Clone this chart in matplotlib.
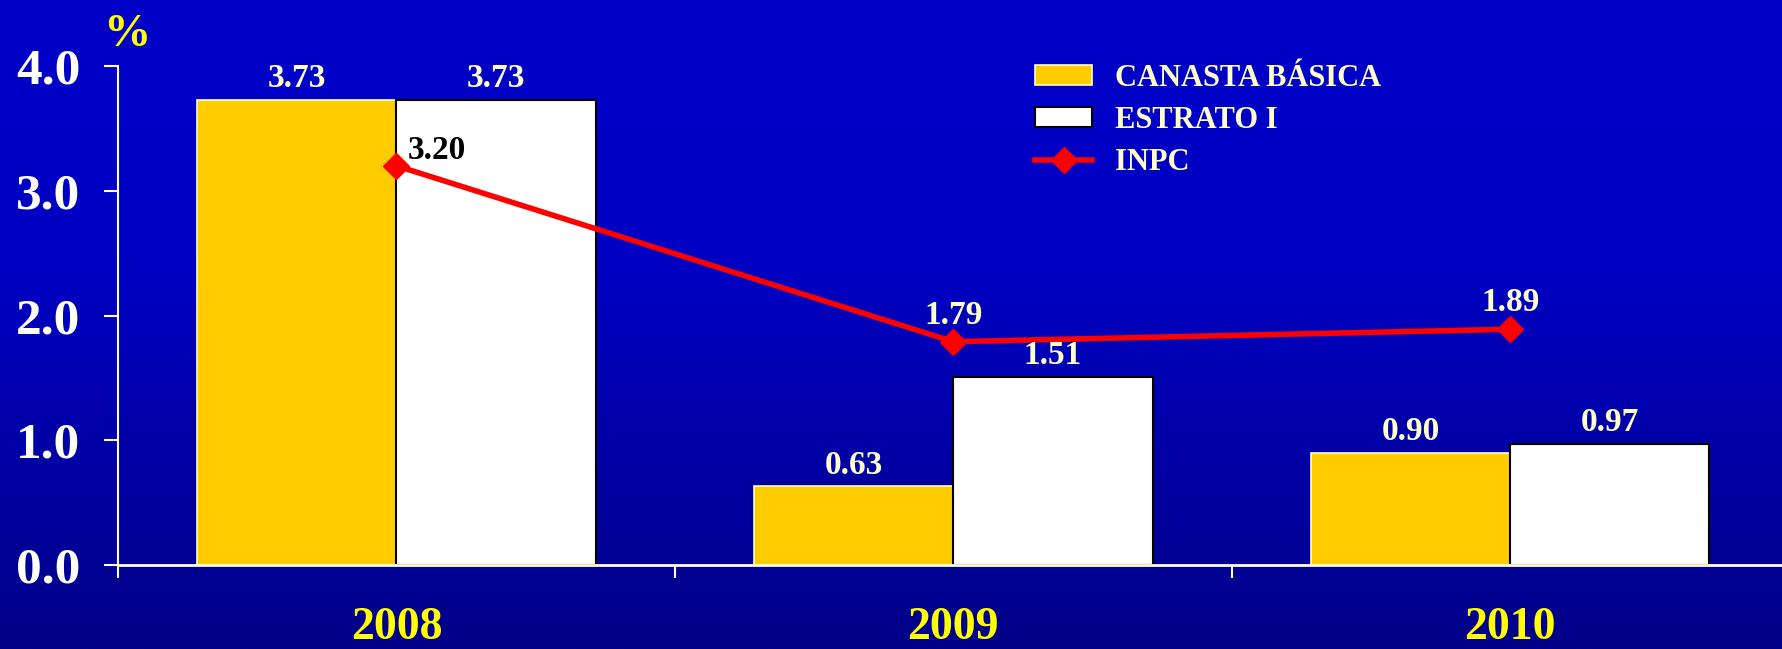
import numpy as np
import matplotlib
matplotlib.use('Agg')
import matplotlib.pyplot as plt
from matplotlib.colors import LinearSegmentedColormap

years = ['2008', '2009', '2010']
canasta = [3.73, 0.63, 0.90]
estrato = [3.73, 1.51, 0.97]
inpc = [3.20, 1.79, 1.89]
yticks = [0.0, 1.0, 2.0, 3.0, 4.0]

plt.rcParams['font.family'] = ['Liberation Serif', 'DejaVu Serif']
plt.rcParams['font.weight'] = 'bold'

cream = '#FFFFCC'
W, H = 1783, 649
fig = plt.figure(figsize=(W / 100, H / 100), dpi=100)

# fondo degradado
bg = fig.add_axes([0, 0, 1, 1], zorder=-1)
cmap = LinearSegmentedColormap.from_list('bg', [(0, '#0000C8'), (0.4, '#0000C4'), (1, '#000088')])
grad = np.linspace(0, 1, 300).reshape(-1, 1)
bg.imshow(grad, cmap=cmap, aspect='auto', extent=[0, 1, 0, 1])
bg.set_axis_off()

ax = fig.add_axes([118 / W, (H - 565) / H, 1 - 118 / W, (565 - 66) / H])
ax.patch.set_visible(False)

x = np.arange(len(years))
bw = 0.358
b1 = ax.bar(x - bw / 2, canasta, bw, color='#FFCC00', edgecolor=cream, linewidth=1.2,
            label='CANASTA BÁSICA', zorder=2)
b2 = ax.bar(x + bw / 2, estrato, bw, color='white', edgecolor='black', linewidth=1.5,
            label='ESTRATO I', zorder=2)
ln, = ax.plot(x, inpc, color='#FF0000', lw=4, marker='D', markersize=13,
              label='INPC', zorder=3)

for xi, v in zip(x, canasta):
    ax.annotate(f'{v:.2f}', (xi - bw / 2, v), xytext=(0, 9), textcoords='offset points',
                ha='center', va='baseline', fontsize=24, color=cream)
for xi, v in zip(x, estrato):
    ax.annotate(f'{v:.2f}', (xi + bw / 2, v), xytext=(0, 9), textcoords='offset points',
                ha='center', va='baseline', fontsize=24, color=cream)
for i, v in enumerate(inpc):
    if i == 0:
        ax.annotate(f'{v:.2f}', (x[i], v), xytext=(8, 5), textcoords='offset points',
                    ha='left', va='baseline', fontsize=24, color='black')
    else:
        ax.annotate(f'{v:.2f}', (x[i], v), xytext=(0, 13), textcoords='offset points',
                    ha='center', va='baseline', fontsize=24, color=cream)

ax.set_xlim(-0.5, 2.49)
ax.set_ylim(0, 4)
ax.set_yticks(yticks)
ax.set_yticklabels([f'{t:.1f}' for t in yticks], fontsize=37, color='white')
ax.tick_params(axis='y', direction='out', length=10, width=1.5, color='white', pad=17)

ax.set_xticks([-0.5, 0.5, 1.5])
ax.set_xticklabels([])
ax.tick_params(axis='x', which='major', direction='out', length=9, width=1.5, color='white')
ax.set_xticks(x, minor=True)
ax.set_xticklabels(years, minor=True, fontsize=33, color='#FFFF00')
ax.tick_params(axis='x', which='minor', length=0, pad=30)

for s in ['top', 'right']:
    ax.spines[s].set_visible(False)
ax.spines['left'].set_color('white')
ax.spines['left'].set_linewidth(1.5)
ax.spines['bottom'].set_color(cream)
ax.spines['bottom'].set_linewidth(2)
ax.spines['bottom'].set_zorder(4)

fig.text(127 / W, 1 - 35 / H, '%', fontsize=34, color='#FFFF00', ha='center', va='center')

leg = ax.legend(handles=[b1, b2, ln], loc='upper left', bbox_to_anchor=(1035 / W, 1 - 64 / H),
                bbox_transform=fig.transFigure, frameon=False, fontsize=22, labelcolor=cream,
                handlelength=1.87, handleheight=0.62, handletextpad=0.75, labelspacing=0.43,
                borderpad=0, borderaxespad=0)

fig.savefig('out.png', dpi=100)
